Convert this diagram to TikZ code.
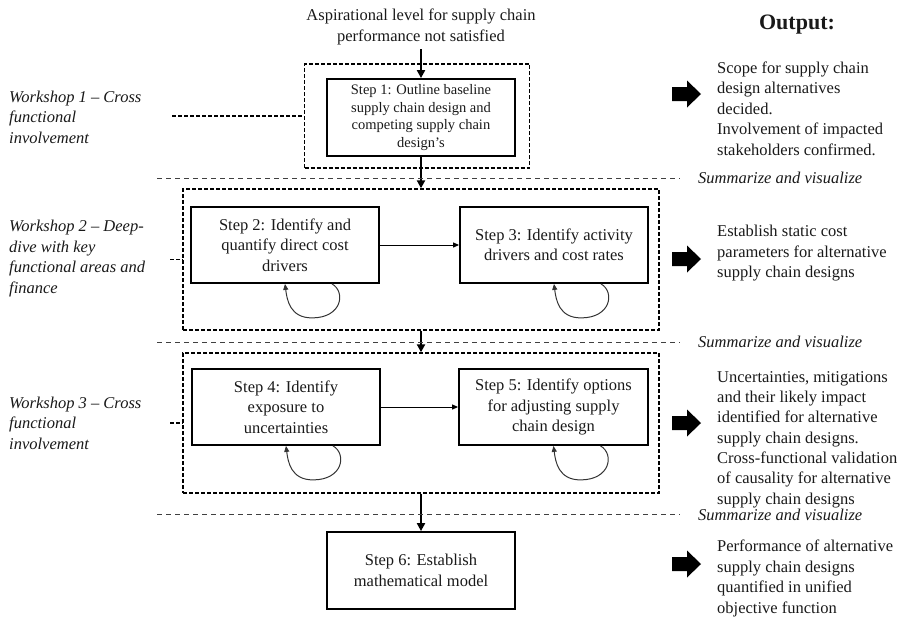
\documentclass[tikz,border=0pt]{standalone}
\usepackage{fontspec}
\setmainfont{Liberation Serif}
\usetikzlibrary{arrows.meta,calc}

\begin{document}
\begin{tikzpicture}[x=1pt,y=-1pt,
  txt/.style={font=\fontsize{16.5}{20.5}\selectfont, inner sep=0pt, text=black!90},
  itxt/.style={txt, font=\fontsize{16.5}{20.5}\selectfont\itshape, align=left},
  stepbox/.style={draw, line width=1.8pt, minimum width=188pt, minimum height=76pt,
    align=center, txt},
  group/.style={draw, line width=1.4pt, dash pattern=on 4pt off 2pt},
  sepline/.style={draw=black!75, line width=0.9pt, dash pattern=on 5pt off 4pt},
  wslink/.style={draw, line width=1.4pt, dash pattern=on 4pt off 2pt},
  flow/.style={line width=2.2pt, -{Triangle[length=8pt,width=8pt]}},
  thinflow/.style={line width=1pt, -{Triangle[length=6pt,width=5pt]}},
  loopline/.style={draw=black!80, line width=1pt, -{Triangle[length=6pt,width=5pt]}},
  outtxt/.style={txt, align=left, anchor=west},
  bigarrow/.pic={\fill (0,-7) -- (15,-7) -- (15,-13.5) -- (29,0) -- (15,13.5) -- (15,7) -- (0,7) -- cycle;}
]
\useasboundingbox (0,0) rectangle (904,616);

% dashed workshop groups
\node[group, minimum width=225pt, minimum height=104pt] (w1box) at (417,116) {};
\node[group, minimum width=476pt, minimum height=141pt] (w2box) at (421,259.5) {};
\node[group, minimum width=476pt, minimum height=140pt] (w3box) at (421,423) {};

% process steps
\node[stepbox, minimum height=77pt, font=\fontsize{14.5}{17.5}\selectfont] (s1) at (421,117.5)
  {Step 1: Outline baseline\\supply chain design and\\competing supply chain\\design’s};
\node[stepbox] (s2) at (285,245) {Step 2: Identify and\\quantify direct cost\\drivers};
\node[stepbox] (s3) at (554,245) {Step 3: Identify activity\\drivers and cost rates};
\node[stepbox] (s4) at (286,407) {Step 4: Identify\\exposure to\\uncertainties};
\node[stepbox, minimum width=189pt] (s5) at (553.5,407) {Step 5: Identify options\\for adjusting supply\\chain design};
\node[stepbox, minimum height=77pt] (s6) at (421,570.5) {Step 6: Establish\\mathematical model};

% trigger
\node[txt, align=center] (aspir) at (421,27)
  {Aspirational level for supply chain\\performance not satisfied};

% main flow
\draw[flow] (aspir.south) ++(0,4) coordinate (aspirout) (aspirout) -- (s1.north);
\draw[flow] (s1.south) -- (w2box.north);
\draw[flow] (w2box.south) -- (w3box.north);
\draw[flow] (w3box.south) -- (s6.north);
\draw[thinflow] (s2.east) -- (s3.west);
\draw[thinflow] (s4.east) -- (s5.west);

% iteration loops
\foreach \s in {s2,s3,s4,s5}{
  \draw[loopline] ($(\s.south)+(47,0)$) .. controls +(14,8) and +(30,0) ..
    ($(\s.south)+(27,34)$) .. controls +(-22,0) and +(2,16) .. (\s.south);
}

% separators between workshops
\coordinate (sep1a) at (157,178);  \coordinate (sep1b) at (680,178);
\coordinate (sep2a) at (157,342);  \coordinate (sep2b) at (680,342);
\coordinate (sep3a) at (157,514);  \coordinate (sep3b) at (680,514);
\draw[sepline] (sep1a) -- (sep1b);
\draw[sepline] (sep2a) -- (sep2b);
\draw[sepline] (sep3a) -- (sep3b);
\node[itxt, anchor=west] (sum1) at (698,178) {Summarize and visualize};
\node[itxt, anchor=west] (sum2) at (698,342) {Summarize and visualize};
\node[itxt, anchor=west] (sum3) at (698,515) {Summarize and visualize};

% workshop labels
\node[itxt, anchor=west] (lab1) at (9,117) {Workshop 1 – Cross\\functional\\involvement};
\node[itxt, anchor=west] (lab2) at (9,258.5) {Workshop 2 – Deep-\\dive with key\\functional areas and\\finance};
\node[itxt, anchor=west] (lab3) at (9,423) {Workshop 3 – Cross\\functional\\involvement};
\coordinate (w1c) at (172,116);
\coordinate (w2c) at (170,259.5);
\coordinate (w3c) at (170,423);
\draw[wslink] (w1c) -- (w1box.west);
\draw[wslink] (w2c) -- (w2box.west);
\draw[wslink] (w3c) -- (w3box.west);

% outputs
\node[txt, font=\fontsize{22}{26}\selectfont\bfseries] (outhead) at (797,25) {Output:};
\pic at (672,94) {bigarrow};
\pic at (672,259) {bigarrow};
\pic at (672,423) {bigarrow};
\pic at (672,564) {bigarrow};
\node[outtxt] (out1) at (717,108.5) {Scope for supply chain\\design alternatives\\decided.\\Involvement of impacted\\stakeholders confirmed.};
\node[outtxt] (out2) at (717,253.5) {Establish static cost\\parameters for alternative\\supply chain designs};
\node[outtxt, font=\fontsize{16.5}{20.3}\selectfont] (out3) at (717,439.5) {Uncertainties, mitigations\\and their likely impact\\identified for alternative\\supply chain designs.\\Cross-functional validation\\of causality for alternative\\supply chain designs};
\node[outtxt] (out4) at (717,578.5) {Performance of alternative\\supply chain designs\\quantified in unified\\objective function};
\end{tikzpicture}
\end{document}
